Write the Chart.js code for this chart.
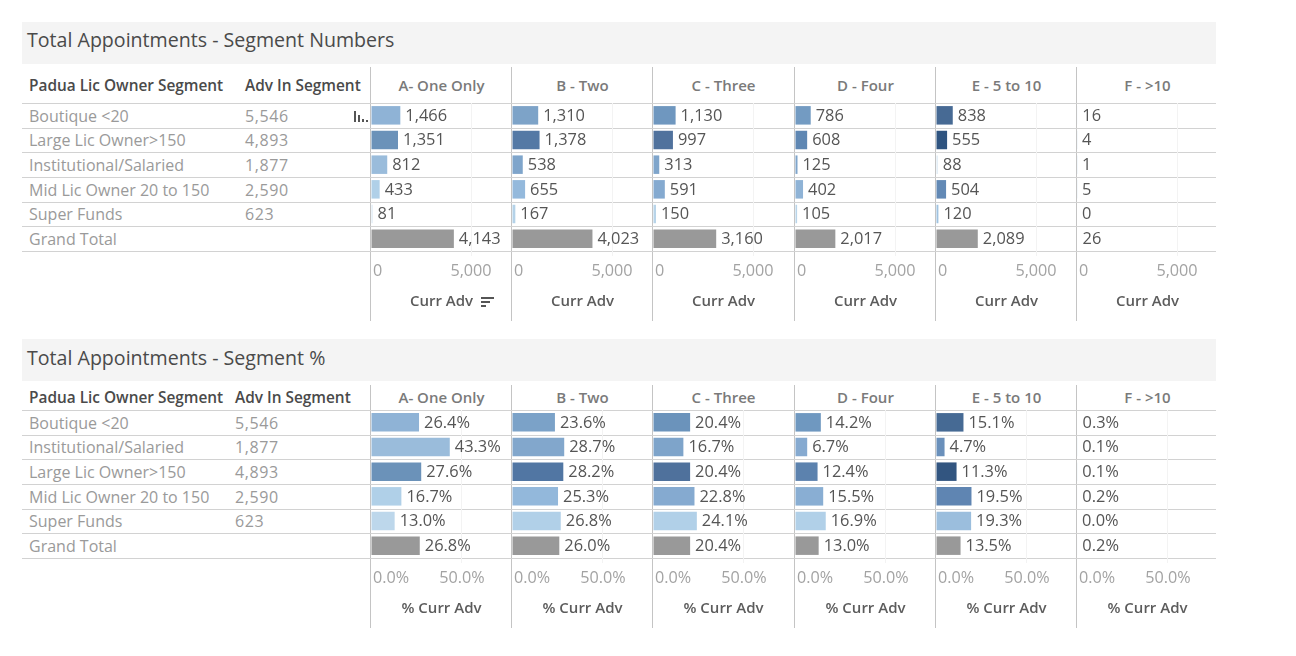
<!DOCTYPE html>
<html>
<head>
<meta charset="utf-8">
<title>Total Appointments</title>
<script src="https://cdn.jsdelivr.net/npm/chart.js@4"></script>
<style>
  html, body { margin: 0; padding: 0; background: #fff; overflow: hidden; }
  body { font-family: "Open Sans", sans-serif; width: 1296px; height: 656px; position: relative; }
  .abs { position: absolute; white-space: nowrap; }
  .band { left: 22px; width: 1194px; height: 42px; background: #f4f4f4; color: #4a4a4a; font-size: 19.6px; text-indent: 5px; }
  .hline { left: 22px; width: 1194px; height: 1px; background: #d2d2d2; }
  .vline { width: 1px; background: #c4c4c4; }
  .head { font-size: 15.4px; font-weight: 600; color: #4a4a4a; line-height: 20px; margin-top: 1px; }
  .col { font-size: 15px; font-weight: 600; color: #7a7a7a; line-height: 20px; width: 141px; text-align: center; }
  .cell { font-size: 16px; color: #9a9a9a; line-height: 20px; }
  .adv { letter-spacing: 0.6px; }
  .tick { background: #555; }
  canvas { position: absolute; }
</style>
</head>
<body>
<script>
// ─── DATA ──────────────────────────────────────────────────
var bands = ['A- One Only', 'B - Two', 'C - Three', 'D - Four', 'E - 5 to 10', 'F - >10'];

var countSegments = ['Boutique <20', 'Large Lic Owner>150', 'Institutional/Salaried', 'Mid Lic Owner 20 to 150', 'Super Funds', 'Grand Total'];
var countAdvisers = ['5,546', '4,893', '1,877', '2,590', '623', ''];
var countOne   = [1466, 1351, 812, 433, 81, 4143];
var countTwo   = [1310, 1378, 538, 655, 167, 4023];
var countThree = [1130, 997, 313, 591, 150, 3160];
var countFour  = [786, 608, 125, 402, 105, 2017];
var countFive  = [838, 555, 88, 504, 120, 2089];
var countMore  = [16, 4, 1, 5, 0, 26];
var countTicks = [0, 5000];

var pctSegments = ['Boutique <20', 'Institutional/Salaried', 'Large Lic Owner>150', 'Mid Lic Owner 20 to 150', 'Super Funds', 'Grand Total'];
var pctAdvisers = ['5,546', '1,877', '4,893', '2,590', '623', ''];
var pctOne   = [26.4, 43.3, 27.6, 16.7, 13.0, 26.8];
var pctTwo   = [23.6, 28.7, 28.2, 25.3, 26.8, 26.0];
var pctThree = [20.4, 16.7, 20.4, 22.8, 24.1, 20.4];
var pctFour  = [14.2, 6.7, 12.4, 15.5, 16.9, 13.0];
var pctFive  = [15.1, 4.7, 11.3, 19.5, 19.3, 13.5];
var pctMore  = [0.3, 0.1, 0.1, 0.2, 0.0, 0.2];
var pctTicks = [0, 50];

// bar shades, same order as the values above
var countShades = [
  ['#8fb3d6', '#6b92b9', '#9abcdb', '#b0d0e8', '#dce9f4', '#999999'],
  ['#7da3c8', '#5479a5', '#7fa5cb', '#94b9dc', '#b4d2e8', '#999999'],
  ['#6f97bf', '#50729d', '#7fa5cb', '#85aad0', '#b8d4e9', '#999999'],
  ['#739bc2', '#5f87b3', '#7fa5cb', '#8fb3d6', '#b8d4e9', '#999999'],
  ['#476a94', '#2f5480', '#dce9f4', '#6289b5', '#9fc2e0', '#999999'],
  ['#e4eef6', '#e4eef6', '#e4eef6', '#e4eef6', '#e4eef6', '#e4eef6']
];
var pctShades = [
  ['#8fb3d6', '#9abcdb', '#6b92b9', '#b0d0e8', '#bdd7eb', '#999999'],
  ['#7ba2c8', '#82a7cc', '#5176a3', '#93b8db', '#b1d0e8', '#999999'],
  ['#6b93bb', '#7ea4ca', '#4f719c', '#85aad0', '#b1d0e8', '#999999'],
  ['#6f98c0', '#86aad0', '#5c82ae', '#89aed3', '#b1d0e8', '#999999'],
  ['#466a94', '#6a90bb', '#325580', '#5f85b2', '#9bbedd', '#999999'],
  ['#e4eef6', '#e4eef6', '#e4eef6', '#e4eef6', '#e4eef6', '#e4eef6']
];

var countSeries = [countOne, countTwo, countThree, countFour, countFive, countMore];
var pctSeries = [pctOne, pctTwo, pctThree, pctFour, pctFive, pctMore];

// ─── LAYOUT ────────────────────────────────────────────────
var colLeft = [370, 511, 652, 794, 935, 1076];
var colWidth = 141;
var rowHeight = 24.67;
var axisHeight = 70;

Chart.defaults.font.family = '"Open Sans", sans-serif';
Chart.defaults.animation = false;

function put(cls, x, y, text, extra) {
  var el = document.createElement('div');
  el.className = 'abs ' + cls;
  el.style.left = x + 'px';
  el.style.top = y + 'px';
  if (text !== undefined) el.textContent = text;
  if (extra) el.style.cssText += extra;
  document.body.appendChild(el);
  return el;
}

// print the bar values next to the bars
var barLabels = {
  id: 'barLabels',
  afterDatasetsDraw: function(chart, args, opts) {
    var ctx = chart.ctx;
    var meta = chart.getDatasetMeta(0);
    ctx.save();
    ctx.font = '16.4px "Open Sans", sans-serif';
    ctx.fillStyle = '#555555';
    ctx.textAlign = 'left';
    ctx.textBaseline = 'middle';
    meta.data.forEach(function(bar, i) {
      ctx.fillText(opts.format(chart.data.datasets[0].data[i]), bar.x + 5, bar.y + 0.5);
    });
    ctx.restore();
  }
};

// the zero tick sits inside the panel, not centred on the line
var leftFirstTick = {
  id: 'leftFirstTick',
  beforeDraw: function(chart) {
    var items = chart.scales.x.getLabelItems();
    if (items.length) {
      items[0].options.textAlign = 'left';
      items[0].options.translation[0] += 2;
    }
  }
};

function drawPanel(x, top, labels, values, shades, axisMax, tickValues, title, tickFmt, labelFmt) {
  var canvas = document.createElement('canvas');
  canvas.width = colWidth;
  canvas.height = 148 + axisHeight;
  canvas.style.left = (x + 1) + 'px';
  canvas.style.top = top + 'px';
  document.body.appendChild(canvas);

  new Chart(canvas, {
    type: 'bar',
    data: {
      labels: labels,
      datasets: [{ data: values, backgroundColor: shades, barPercentage: 0.75, categoryPercentage: 1 }]
    },
    plugins: [barLabels, leftFirstTick],
    options: {
      indexAxis: 'y',
      responsive: false,
      layout: { padding: 0 },
      events: [],
      plugins: {
        legend: { display: false },
        tooltip: { enabled: false },
        barLabels: { format: labelFmt }
      },
      scales: {
        y: { display: false },
        x: {
          min: 0,
          max: axisMax,
          afterBuildTicks: function(s) {
            s.ticks = tickValues.map(function(v) { return { value: v }; });
          },
          afterFit: function(s) {
            s.height = axisHeight;
            s.paddingLeft = 0;
            s.paddingRight = 0;
          },
          border: { display: false },
          grid: {
            color: function(c) { return c.tick && c.tick.value === 0 ? 'transparent' : '#f3f3f3'; },
            drawTicks: true,
            tickLength: 5
          },
          ticks: {
            autoSkip: false,
            maxRotation: 0,
            color: '#a3a3a3',
            padding: 6,
            font: { size: 16.2 },
            callback: tickFmt
          },
          title: {
            display: true,
            text: title,
            color: '#5c5c5c',
            font: { size: 15, weight: '600' },
            padding: { top: 0, bottom: 10 }
          }
        }
      }
    }
  });
}

function drawTable(opt) {
  put('band', 22, opt.bandTop, opt.heading, 'line-height:' + opt.bandLine + 'px');

  // vertical column rules
  colLeft.forEach(function(x) {
    put('vline', x, opt.ruleTop, undefined, 'height:' + opt.ruleHeight + 'px');
  });

  // column heads
  var headTop = opt.rowsTop - opt.headGap;
  put('head', 29, headTop, 'Padua Lic Owner Segment');
  put('head', opt.advX, headTop, 'Adv In Segment');
  bands.forEach(function(b, i) {
    put('col', colLeft[i] + 1, headTop, b);
  });

  // rows
  put('hline', 22, opt.rowsTop);
  opt.segments.forEach(function(s, r) {
    var y = opt.rowsTop + r * rowHeight;
    put('cell', 29, y + 2.5, s);
    if (opt.advisers[r]) put('cell adv', opt.advX, y + 2.5, opt.advisers[r]);
    put('hline', 22, Math.round(y + rowHeight));
  });

  // one small bar chart per band
  bands.forEach(function(b, i) {
    drawPanel(colLeft[i], opt.rowsTop, opt.segments, opt.series[i], opt.shades[i],
      opt.axisMax, opt.ticks, opt.axisTitle, opt.tickFmt, opt.labelFmt);
  });
}

drawTable({
  heading: 'Total Appointments - Segment Numbers',
  bandTop: 22, bandLine: 36, ruleTop: 67, ruleHeight: 254, rowsTop: 103, headGap: 28, advX: 245,
  segments: countSegments, advisers: countAdvisers,
  series: countSeries, shades: countShades,
  axisMax: 7050, ticks: countTicks, axisTitle: 'Curr Adv',
  tickFmt: function(v) { return v.toLocaleString('en-US'); },
  labelFmt: function(v) { return v.toLocaleString('en-US'); }
});

drawTable({
  heading: 'Total Appointments - Segment %',
  bandTop: 339, bandLine: 38, ruleTop: 385, ruleHeight: 243, rowsTop: 410, headGap: 23, advX: 235,
  segments: pctSegments, advisers: pctAdvisers,
  series: pctSeries, shades: pctShades,
  axisMax: 77.5, ticks: pctTicks, axisTitle: '% Curr Adv',
  tickFmt: function(v) { return v.toFixed(1) + '%'; },
  labelFmt: function(v) { return v.toFixed(1) + '%'; }
});

// sort marker beside the first axis title
[[481, 297, 13], [481, 301, 9], [481, 305, 5]].forEach(function(t) {
  put('tick', t[0], t[1], undefined, 'width:' + t[2] + 'px;height:1.5px');
});
// sort marker in the first row
[[354, 111, 11], [358, 115, 7], [362, 119, 3], [366, 120, 2]].forEach(function(t) {
  put('tick', t[0], t[1], undefined, 'width:1.6px;height:' + t[2] + 'px');
});
</script>
</body>
</html>
